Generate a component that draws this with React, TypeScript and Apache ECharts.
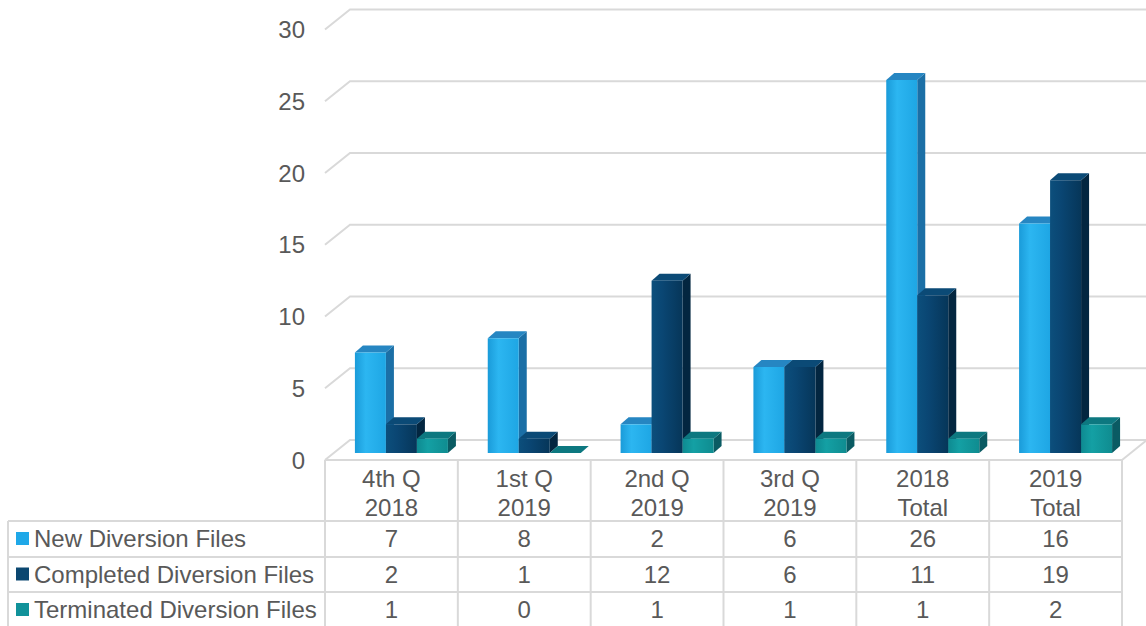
import React, { useEffect, useRef } from "react";
import * as echarts from "echarts";

const categories = ["4th Q\n2018", "1st Q\n2019", "2nd Q\n2019", "3rd Q\n2019", "2018\nTotal", "2019\nTotal"];
const seriesNames = ["New Diversion Files", "Completed Diversion Files", "Terminated Diversion Files"];
const newFiles = [7, 8, 2, 6, 26, 16];
const completedFiles = [2, 1, 12, 6, 11, 19];
const terminatedFiles = [1, 0, 1, 1, 1, 2];
const yTicks = [0, 5, 10, 15, 20, 25, 30];

const FONT = "'Liberation Sans', Arial, sans-serif";
const FONT_SIZE = 24;
const TEXT_COLOR = "#595959";
const LINE_COLOR = "#d9d9d9";

const palette = [
  { front: ["#1a9bd9", "#2cb6f1", "#1ea6e4"], side: "#1b6fa6", top: "#2686c2", legend: "#1fa8e8" },
  { front: ["#0c4f7c", "#0a4673", "#063659"], side: "#032640", top: "#0b4a76", legend: "#0b4770" },
  { front: ["#0e8a91", "#14a0a4", "#0f8c90"], side: "#0a5b63", top: "#0d7880", legend: "#11929a" },
];

const BAR_W = 31;
const DEPTH_X = 8;
const DEPTH_Y = 7;
const SHIFT_X = 10;
const SHIFT_Y = 7;
const WALL_X = 25;
const WALL_Y = 20;
const ROW_Y = [538.5, 574, 609.5];
const TABLE_TOP = 460;
const ROW_LINES = [521, 557, 592];
const TABLE_LEFT = 8;
const PAGE_H = 626;

function makeBarRenderer(s: number) {
  const pal = palette[s];
  return (params: any, api: any) => {
    const i = api.value(0);
    const v = api.value(1);
    const base = api.coord([i, 0]);
    const topP = api.coord([i, v]);
    const x0 = base[0] + SHIFT_X - 1.5 * BAR_W + s * BAR_W;
    const x1 = x0 + BAR_W;
    const yb = base[1] - SHIFT_Y;
    const yt = topP[1] - SHIFT_Y;
    const grad = new echarts.graphic.LinearGradient(0, 0, 1, 0, [
      { offset: 0, color: pal.front[0] },
      { offset: 0.35, color: pal.front[1] },
      { offset: 1, color: pal.front[2] },
    ]);
    return {
      type: "group",
      children: [
        {
          type: "polygon",
          shape: { points: [[x1, yt], [x1 + DEPTH_X, yt - DEPTH_Y], [x1 + DEPTH_X, yb - DEPTH_Y], [x1, yb]] },
          style: { fill: pal.side },
        },
        {
          type: "polygon",
          shape: { points: [[x0, yt], [x0 + DEPTH_X, yt - DEPTH_Y], [x1 + DEPTH_X, yt - DEPTH_Y], [x1, yt]] },
          style: { fill: pal.top },
        },
        {
          type: "rect",
          shape: { x: x0, y: yt, width: BAR_W, height: Math.max(0, yb - yt) },
          style: { fill: grad },
        },
        {
          type: "text",
          x: base[0],
          y: ROW_Y[s],
          style: {
            text: String(v),
            fill: TEXT_COLOR,
            font: `${FONT_SIZE}px ${FONT}`,
            align: "center",
            verticalAlign: "middle",
          },
        },
      ],
    };
  };
}

const renderWall = (params: any, api: any) => {
  const v = api.value(1);
  const cs = params.coordSys;
  const y = api.coord([0, v])[1];
  return {
    type: "polyline",
    shape: {
      points: [
        [cs.x, y],
        [cs.x + WALL_X, y - WALL_Y],
        [cs.x + cs.width + WALL_X, y - WALL_Y],
      ],
    },
    style: { stroke: LINE_COLOR, lineWidth: 2, fill: "none" },
  };
};

const renderTable = (params: any, api: any) => {
  const cs = params.coordSys;
  const band = cs.width / categories.length;
  const right = cs.x + cs.width;
  const children: any[] = [];
  const st = { stroke: LINE_COLOR, lineWidth: 2 };
  for (let k = 0; k <= categories.length; k++) {
    const x = cs.x + k * band;
    children.push({ type: "line", shape: { x1: x, y1: TABLE_TOP, x2: x, y2: PAGE_H }, style: st });
  }
  children.push({ type: "line", shape: { x1: cs.x, y1: TABLE_TOP, x2: right, y2: TABLE_TOP }, style: st });
  children.push({ type: "line", shape: { x1: right, y1: TABLE_TOP, x2: right + WALL_X, y2: TABLE_TOP - WALL_Y }, style: st });
  ROW_LINES.forEach((y) => {
    children.push({ type: "line", shape: { x1: TABLE_LEFT, y1: y, x2: right, y2: y }, style: st });
  });
  children.push({ type: "line", shape: { x1: TABLE_LEFT, y1: ROW_LINES[0], x2: TABLE_LEFT, y2: PAGE_H }, style: st });
  return { type: "group", children };
};

export default function App() {
  const ref = useRef<HTMLDivElement>(null);
  useEffect(() => {
    document.body.style.margin = "0";
    const chart = echarts.init(ref.current!, null, { renderer: "svg" });
    const valueSets = [newFiles, completedFiles, terminatedFiles];
    chart.setOption({
      animation: false,
      textStyle: { fontFamily: FONT },
      grid: { left: 325, right: 24, top: 29.5, bottom: 166 },
      legend: {
        orient: "vertical",
        left: 16,
        top: 524.5,
        padding: 0,
        itemWidth: 13,
        itemHeight: 13,
        itemGap: 7.5,
        icon: "rect",
        selectedMode: false,
        data: seriesNames,
        textStyle: { fontSize: FONT_SIZE, color: TEXT_COLOR, lineHeight: 28, fontFamily: FONT },
      },
      xAxis: {
        type: "category",
        data: categories,
        axisLine: { show: false },
        axisTick: { show: false },
        splitLine: { show: false },
        axisLabel: { fontSize: FONT_SIZE, lineHeight: 29, color: TEXT_COLOR, margin: 4, fontFamily: FONT, interval: 0 },
      },
      yAxis: {
        type: "value",
        min: 0,
        max: 30,
        interval: 5,
        axisLine: { show: false },
        axisTick: { show: false },
        splitLine: { show: false },
        axisLabel: { fontSize: FONT_SIZE, color: TEXT_COLOR, margin: 20, fontFamily: FONT },
      },
      series: [
        {
          type: "custom",
          name: "wall",
          silent: true,
          renderItem: renderWall,
          data: yTicks.map((v) => [0, v]),
          encode: { x: 0, y: 1 },
          z: 1,
        },
        {
          type: "custom",
          name: "table",
          silent: true,
          renderItem: renderTable,
          data: [[0, 0]],
          encode: { x: 0, y: 1 },
          z: 1,
        },
        ...seriesNames.map((name, s) => ({
          type: "custom",
          name,
          renderItem: makeBarRenderer(s),
          data: valueSets[s].map((v, i) => [i, v]),
          encode: { x: 0, y: 1 },
          itemStyle: { color: palette[s].legend },
          z: 2 + s,
        })),
      ],
    });
    return () => chart.dispose();
  }, []);
  return <div ref={ref} style={{ width: 1146, height: 626 }} />;
}
